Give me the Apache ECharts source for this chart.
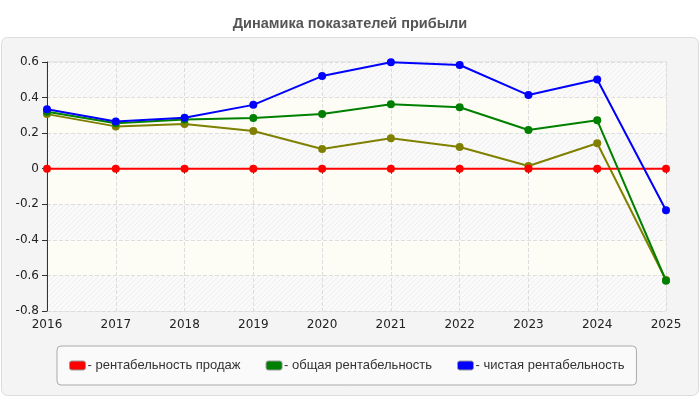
<!DOCTYPE html>
<html>
<head>
<meta charset="utf-8">
<script src="https://cdn.jsdelivr.net/npm/echarts@6/dist/echarts.min.js"></script>
<style>
  html, body { margin: 0; padding: 0; background: #fff; }
</style>
</head>
<body>
<div id="main" style="width:700px;height:400px;"></div>
<script>
    const years = ['2016', '2017', '2018', '2019', '2020', '2021', '2022', '2023', '2024', '2025'];
    const salesProfit = [0, 0, 0, 0, 0, 0, 0, 0, 0, 0];
    const totalProfit = [0.32, 0.255, 0.277, 0.285, 0.308, 0.363, 0.346, 0.218, 0.272, -0.63];
    const netProfit = [0.334, 0.266, 0.287, 0.359, 0.521, 0.598, 0.583, 0.414, 0.502, -0.234];
    const otherProfit = [0.307, 0.238, 0.251, 0.212, 0.111, 0.171, 0.122, 0.015, 0.143, -0.626];
    const yTicks = { min: -0.8, max: 0.6, interval: 0.2 };

    // штриховка для полос
    const hatch = document.createElement('canvas');
    hatch.width = 5;
    hatch.height = 5;
    const hctx = hatch.getContext('2d');
    hctx.fillStyle = '#fafafa';
    hctx.fillRect(0, 0, 5, 5);
    hctx.strokeStyle = '#eeeeee';
    hctx.lineWidth = 1;
    hctx.beginPath();
    hctx.moveTo(0, 5); hctx.lineTo(5, 0);
    hctx.moveTo(-1, 1); hctx.lineTo(1, -1);
    hctx.moveTo(4, 6); hctx.lineTo(6, 4);
    hctx.stroke();

    const chart = echarts.init(document.getElementById('main'));

    function lineSeries(name, color, data) {
        return {
            name: name,
            type: 'line',
            data: data,
            symbol: 'circle',
            symbolSize: 8,
            lineStyle: { color: color, width: 2 },
            itemStyle: { color: color },
            emphasis: { disabled: true }
        };
    }

    const option = {
        animation: false,
        backgroundColor: '#fff',
        textStyle: { fontFamily: 'Liberation Sans, Arial, sans-serif' },
        title: {
            text: 'Динамика показателей прибыли',
            left: 'center',
            top: 11,
            textStyle: { fontSize: 14.5, fontWeight: 'bold', color: '#555' }
        },
        graphic: [{
            type: 'rect',
            z: -10,
            shape: { x: 1.5, y: 37.5, width: 697, height: 358, r: 6 },
            style: { fill: '#f4f4f4', stroke: '#dcdcdc', lineWidth: 1 }
        }],
        legend: {
            data: ['рентабельность продаж', 'общая рентабельность', 'чистая рентабельность'],
            left: 57,
            top: 346,
            padding: [13, 12, 13, 12],
            itemGap: 25,
            itemWidth: 16,
            itemHeight: 9,
            icon: 'roundRect',
            backgroundColor: '#fafafa',
            borderColor: '#aaa',
            borderWidth: 1,
            borderRadius: 4,
            itemStyle: { borderColor: '#999', borderWidth: 1 },
            formatter: function (name) { return '- ' + name; },
            textStyle: { fontSize: 13, color: '#333', padding: [0, 0, 0, -3] }
        },
        grid: { left: 47, right: 34, top: 62, bottom: 89, show: true, borderColor: '#ddd', backgroundColor: '#fff' },
        xAxis: {
            type: 'category',
            data: years,
            boundaryGap: false,
            axisLine: { lineStyle: { color: '#333' } },
            axisTick: { show: true, length: 5, lineStyle: { color: '#333' } },
            axisLabel: { color: '#222', fontSize: 12, margin: 8, fontFamily: 'DejaVu Sans' },
            splitLine: { show: true, lineStyle: { color: '#ddd', type: 'dashed' } }
        },
        yAxis: {
            type: 'value',
            min: yTicks.min,
            max: yTicks.max,
            interval: yTicks.interval,
            axisLine: { show: true, lineStyle: { color: '#333' } },
            axisTick: { show: true, length: 5, lineStyle: { color: '#333' } },
            axisLabel: {
                color: '#222',
                fontSize: 12,
                margin: 8,
                fontFamily: 'DejaVu Sans',
                formatter: function (v) { return String(Math.round(v * 10) / 10); }
            },
            splitLine: { show: true, lineStyle: { color: '#ddd', type: 'dashed' } },
            splitArea: {
                show: true,
                areaStyle: { color: [{ image: hatch, repeat: 'repeat' }, '#fdfdf6'] }
            }
        },
        series: [
            lineSeries('рентабельность продаж', '#ff0000', salesProfit),
            lineSeries('рентабельность активов', '#808000', otherProfit),
            lineSeries('общая рентабельность', '#008000', totalProfit),
            lineSeries('чистая рентабельность', '#0000ff', netProfit)
        ]
    };

    // порядок отрисовки как на образце
    option.series[1].z = 2;
    option.series[2].z = 3;
    option.series[3].z = 4;

    chart.setOption(option);
</script>
</body>
</html>
